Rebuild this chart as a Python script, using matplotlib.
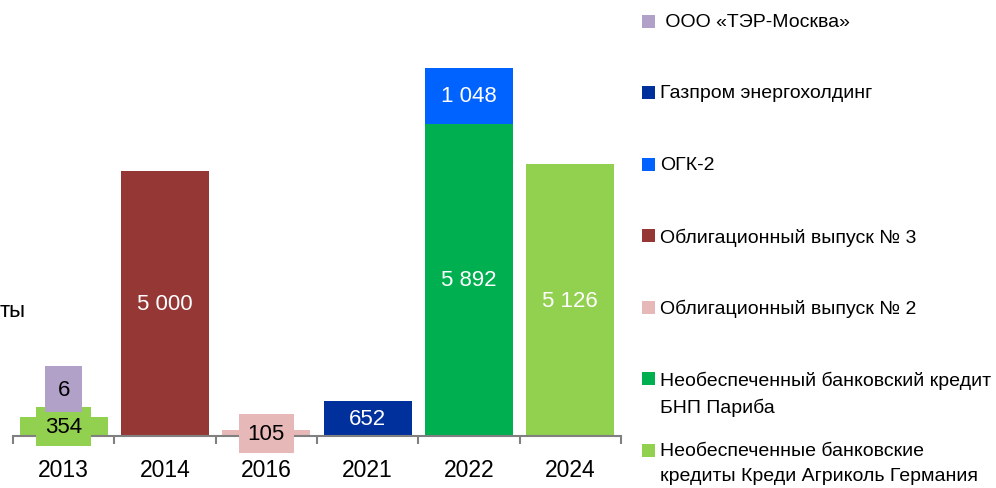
import matplotlib
matplotlib.use("Agg")
import matplotlib.pyplot as plt
from matplotlib.patches import Rectangle
import numpy as np

plt.rcParams['font.family'] = ['Liberation Sans', 'DejaVu Sans']

years = ['2013', '2014', '2016', '2021', '2022', '2024']

# series from bottom of stack to top
series_names = [
    'Необеспеченные банковские\nкредиты Креди Агриколь Германия',
    'Необеспеченный банковский кредит\nБНП Париба',
    'Облигационный выпуск № 2',
    'Облигационный выпуск № 3',
    'ОГК-2',
    'Газпром энергохолдинг',
    ' ООО «ТЭР-Москва»',
]
series_colors = ['#92D050', '#00B050', '#E6B9B8', '#953735', '#0062FF', '#00309C', '#B1A0C7']

credit_agricole = [354, 0, 0, 0, 0, 5126]
bnp_paribas = [0, 0, 0, 0, 5892, 0]
bond_2 = [0, 0, 105, 0, 0, 0]
bond_3 = [0, 5000, 0, 0, 0, 0]
ogk2 = [0, 0, 0, 0, 1048, 0]
gazprom_eh = [0, 0, 0, 652, 0, 0]
ter_moscow = [6, 0, 0, 0, 0, 0]

series_values = [credit_agricole, bnp_paribas, bond_2, bond_3, ogk2, gazprom_eh, ter_moscow]

W, H = 996, 489
fig = plt.figure(figsize=(W / 100, H / 100), dpi=100)
ax_left, ax_right = 13 / W, 621 / W
ax_bottom = (H - 437) / H
ax_top = (H - 69) / H
ax = fig.add_axes([ax_left, ax_bottom, ax_right - ax_left, ax_top - ax_bottom])

LBL = 16
x = np.arange(len(years))
bottoms = np.zeros(len(years))
bar_w = 0.87
for name, vals, col in zip(series_names, series_values, series_colors):
    vals = np.array(vals, dtype=float)
    ax.bar(x, vals, bar_w, bottom=bottoms, color=col, edgecolor='none', zorder=2)
    for i, v in enumerate(vals):
        if v <= 0:
            continue
        lab = f"{int(v):,}".replace(',', ' ')
        if v >= 500:
            ax.text(x[i], bottoms[i] + v / 2, lab, ha='center', va='center',
                    color='white', fontsize=LBL, zorder=4)
        elif v >= 50:
            ax.text(x[i], bottoms[i] + v / 2, lab, ha='center', va='center',
                    color='black', fontsize=LBL, zorder=5, clip_on=False,
                    bbox=dict(boxstyle='square,pad=0.4', facecolor=col, edgecolor='none'))
        else:
            ax.annotate(lab, xy=(x[i], bottoms[i] + v), xytext=(0, 20),
                        textcoords='offset points', ha='center', va='center',
                        color='black', fontsize=LBL, zorder=5, annotation_clip=False,
                        bbox=dict(boxstyle='square,pad=0.55', facecolor=col, edgecolor='none'))
    bottoms += vals

ax.set_xlim(-0.5, len(years) - 0.5)
ax.set_ylim(0, 6940)
for s in ['top', 'right', 'left']:
    ax.spines[s].set_visible(False)
ax.spines['bottom'].set_color('#808080')
ax.spines['bottom'].set_linewidth(1.5)
ax.spines['bottom'].set_zorder(3)
ax.set_yticks([])
ax.set_xticks(x)
ax.set_xticklabels(years, fontsize=16.5)
ax.set_xticks(np.arange(-0.5, len(years)), minor=True)
ax.tick_params(axis='x', which='major', length=0, pad=16)
ax.tick_params(axis='x', which='minor', length=6, width=1.5, color='#808080', direction='out')

# legend (top to bottom = reverse stacking order)
first_line_y = 22
step = 71.5
for k, (name, col) in enumerate(zip(series_names[::-1], series_colors[::-1])):
    yc = first_line_y + k * step
    fig.patches.append(Rectangle((642 / W, 1 - (yc + 6.5) / H), 13 / W, 13 / H,
                                 transform=fig.transFigure, facecolor=col, edgecolor='none'))
    fig.text(660 / W, 1 - (yc - 8) / H, name, ha='left', va='top', fontsize=14,
             linespacing=1.6)

fig.text(0, 1 - 312 / H, 'ты', ha='left', va='center', fontsize=16)

fig.savefig('out.png', dpi=100)
